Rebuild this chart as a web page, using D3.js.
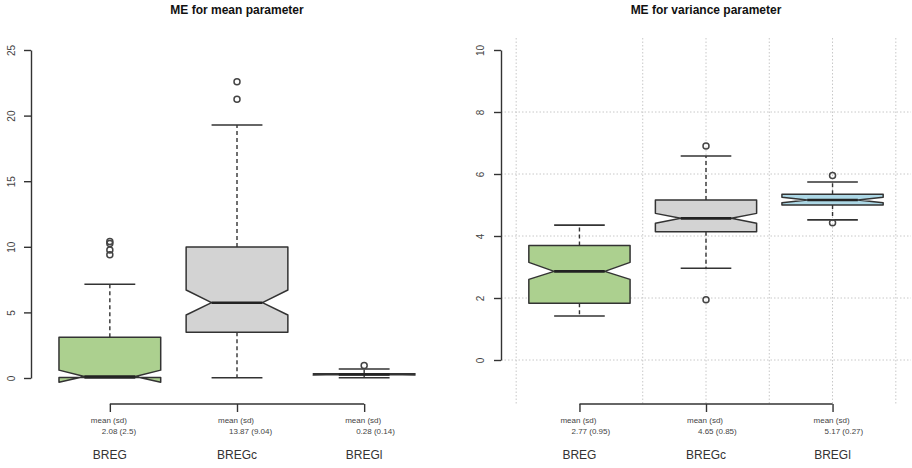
<!DOCTYPE html>
<html>
<head>
<meta charset="utf-8">
<script src="https://cdn.jsdelivr.net/npm/d3@7"></script>
<style>
  html, body { margin: 0; padding: 0; background: #fff; }
  svg { display: block; font-family: "Liberation Sans", Arial, Helvetica, sans-serif; }
</style>
</head>
<body>
<svg id="chart" width="912" height="468"></svg>
<script>
// ---------- data ----------
const categories = ["BREG", "BREGc", "BREGl"];
const fills = ["#acd08f", "#d3d3d3", "#add8e6"];

// five-number summaries [min whisker, Q1, median, Q3, max whisker]
const meanStats = [
  [0.0, 0.03, 0.12, 3.1, 7.14],
  [0.02, 3.48, 5.74, 9.98, 19.28],
  [0.02, 0.24, 0.27, 0.32, 0.69]
];
const meanNotch = [[-0.32, 0.6], [4.8, 6.71], [0.22, 0.33]];
const meanOutliers = [[10.4, 10.25, 9.75, 9.4], [21.24, 22.58], [0.95]];
const meanSummary = ["2.08 (2.5)", "13.87 (9.04)", "0.28 (0.14)"];
const meanTicks = [0, 5, 10, 15, 20, 25];

const varStats = [
  [1.42, 1.83, 2.86, 3.69, 4.35],
  [2.96, 4.14, 4.57, 5.16, 6.58],
  [4.52, 5.0, 5.16, 5.35, 5.74]
];
const varNotch = [[2.6, 3.15], [4.41, 4.73], [5.07, 5.25]];
const varOutliers = [[], [6.9, 1.94], [5.95, 4.43]];
const varSummary = ["2.77 (0.95)", "4.65 (0.85)", "5.17 (0.27)"];
const varTicks = [0, 2, 4, 6, 8, 10];
const varGridX = [0.5, 1.5, 2, 2.5, 3, 3.5];
const varGridY = [0, 2, 4, 6, 8];

// ---------- drawing ----------
const svg = d3.select("#chart");
const ink = "#333";
const plotTop = 38, plotBottom = 404;

function panel(opt) {
  const g = svg.append("g");
  const x = d3.scaleLinear().domain([0.38, 3.62]).range(opt.xRange);
  const y = d3.scaleLinear().domain(opt.yDomain).range(opt.yRange);
  const boxW = x(1.8) - x(1.0);

  // title
  g.append("text")
    .attr("x", (opt.xRange[0] + opt.xRange[1]) / 2)
    .attr("y", 14)
    .attr("text-anchor", "middle")
    .attr("font-weight", "bold")
    .attr("font-size", 12)
    .attr("fill", "#111")
    .text(opt.title);

  // grid
  if (opt.gridX) {
    g.selectAll(".gx").data(opt.gridX).enter().append("line")
      .attr("x1", d => x(d)).attr("x2", d => x(d))
      .attr("y1", plotTop).attr("y2", plotBottom)
      .attr("stroke", "#c8c8c8").attr("stroke-width", 1)
      .attr("stroke-dasharray", "1.5,2");
    g.selectAll(".gy").data(opt.gridY).enter().append("line")
      .attr("x1", opt.xRange[0]).attr("x2", opt.xRange[1])
      .attr("y1", d => y(d)).attr("y2", d => y(d))
      .attr("stroke", "#c8c8c8").attr("stroke-width", 1)
      .attr("stroke-dasharray", "1.5,2");
  }

  // y axis
  const yAxis = d3.axisLeft(y).tickValues(opt.ticks).tickSize(7).tickSizeOuter(0).tickFormat(d3.format("d"));
  const ya = g.append("g").attr("transform", `translate(${opt.xRange[0]},0)`).call(yAxis);
  ya.select(".domain").attr("stroke", ink).attr("stroke-width", 1.4);
  ya.selectAll(".tick line").attr("stroke", ink).attr("stroke-width", 1.4);
  ya.selectAll(".tick text")
    .attr("fill", "#444")
    .attr("font-size", 10)
    .attr("x", 0).attr("dy", 0)
    .attr("text-anchor", "middle")
    .attr("transform", `translate(${-opt.labelOff},0) rotate(-90)`)
    .attr("dominant-baseline", "central");

  // x axis
  const xAxis = d3.axisBottom(x).tickValues([1, 2, 3]).tickSize(8).tickSizeOuter(0).tickFormat("");
  const xa = g.append("g").attr("transform", `translate(0,${plotBottom})`).call(xAxis);
  xa.select(".domain").attr("stroke", ink).attr("stroke-width", 1.4)
    .attr("d", `M${x(1)},0H${x(3)}`);
  xa.selectAll(".tick line").attr("stroke", ink).attr("stroke-width", 1.4);

  // x labels
  categories.forEach((c, i) => {
    const cx = x(i + 1);
    g.append("text").attr("x", cx - 19).attr("y", 423)
      .attr("font-size", 8).attr("fill", "#444").text("mean (sd)");
    g.append("text").attr("x", cx - 8).attr("y", 434)
      .attr("font-size", 8).attr("fill", "#444").text(opt.summary[i]);
    g.append("text").attr("x", cx).attr("y", 459)
      .attr("text-anchor", "middle")
      .attr("font-size", 12).attr("fill", "#333").text(c);
  });

  // boxes
  opt.stats.forEach((s, i) => {
    const cx = x(i + 1);
    const [mn, q1, md, q3, mx] = s;
    const [nlo, nhi] = opt.notch[i];
    const bg = g.append("g");
    // whiskers (dashed)
    bg.append("line").attr("x1", cx).attr("x2", cx).attr("y1", y(q3)).attr("y2", y(mx))
      .attr("stroke", ink).attr("stroke-width", 1.4).attr("stroke-dasharray", "4,3");
    bg.append("line").attr("x1", cx).attr("x2", cx).attr("y1", y(q1)).attr("y2", y(mn))
      .attr("stroke", ink).attr("stroke-width", 1.4).attr("stroke-dasharray", "4,3");
    // staples
    [mn, mx].forEach(v => {
      bg.append("line").attr("x1", cx - boxW / 4).attr("x2", cx + boxW / 4)
        .attr("y1", y(v)).attr("y2", y(v))
        .attr("stroke", ink).attr("stroke-width", 1.6);
    });
    // notched box (R bxp polygon)
    const h = boxW / 2, n = boxW / 4;
    const pts = [
      [cx - h, q1], [cx + h, q1], [cx + h, nlo], [cx + n, md], [cx + h, nhi],
      [cx + h, q3], [cx - h, q3], [cx - h, nhi], [cx - n, md], [cx - h, nlo]
    ];
    bg.append("path")
      .attr("d", "M" + pts.map(p => `${p[0]},${y(p[1])}`).join("L") + "Z")
      .attr("fill", fills[i]).attr("stroke", ink).attr("stroke-width", 1.5)
      .attr("stroke-linejoin", "round");
    // median
    bg.append("line").attr("x1", cx - n).attr("x2", cx + n)
      .attr("y1", y(md)).attr("y2", y(md))
      .attr("stroke", "#222").attr("stroke-width", 2.6);
    // outliers
    bg.selectAll("circle").data(opt.outliers[i]).enter().append("circle")
      .attr("cx", cx).attr("cy", d => y(d)).attr("r", 3)
      .attr("fill", "none").attr("stroke", "#444").attr("stroke-width", 1.5);
  });
}

panel({
  title: "ME for mean parameter",
  xRange: [31, 443], yDomain: [0, 25], yRange: [378, 50], labelOff: 20,
  ticks: meanTicks, stats: meanStats, notch: meanNotch, outliers: meanOutliers,
  summary: meanSummary
});

panel({
  title: "ME for variance parameter",
  xRange: [501, 911], yDomain: [0, 10], yRange: [360, 50], labelOff: 21,
  ticks: varTicks, stats: varStats, notch: varNotch, outliers: varOutliers,
  summary: varSummary, gridX: varGridX, gridY: varGridY
});
</script>
</body>
</html>
